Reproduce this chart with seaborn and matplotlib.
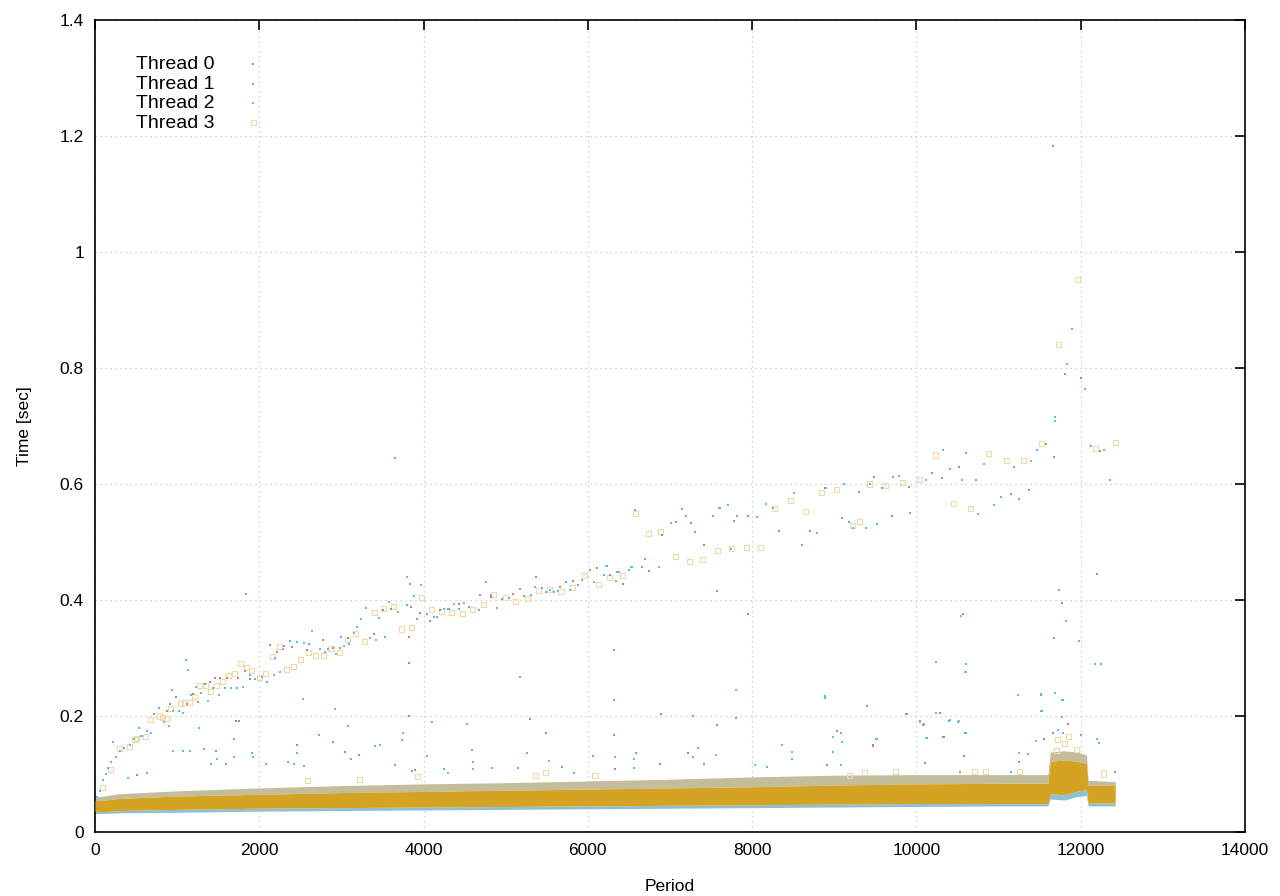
import matplotlib
matplotlib.use("Agg")
import matplotlib.pyplot as plt
import seaborn as sns
import pandas as pd

# dense band of the bulk of samples (period, time in sec)
band_x = [0, 100, 300, 1000, 2000, 3000, 4000, 5000, 6000, 7000, 8000, 9000,
          10000, 11000, 11600, 11630, 11800, 11950, 12070, 12090, 12420]
band_lo = [0.032, 0.032, 0.033, 0.034, 0.036, 0.037, 0.038, 0.039, 0.040, 0.041, 0.042, 0.043,
           0.044, 0.045, 0.045, 0.057, 0.055, 0.061, 0.063, 0.045, 0.045]
core_lo = [0.036, 0.035, 0.037, 0.039, 0.041, 0.042, 0.043, 0.044, 0.045, 0.046, 0.047, 0.048,
           0.049, 0.049, 0.049, 0.066, 0.064, 0.070, 0.073, 0.050, 0.050]
core_hi = [0.054, 0.055, 0.058, 0.062, 0.065, 0.068, 0.070, 0.072, 0.074, 0.076, 0.078, 0.081,
           0.083, 0.084, 0.084, 0.122, 0.124, 0.122, 0.118, 0.081, 0.081]
band_hi = [0.060, 0.062, 0.066, 0.071, 0.076, 0.080, 0.083, 0.085, 0.088, 0.091, 0.095, 0.098,
           0.099, 0.099, 0.099, 0.138, 0.140, 0.138, 0.133, 0.089, 0.087]

# Thread 0 (brown dots)
t0_x = [719, 881, 909, 982, 1123, 1196, 1257, 1337, 1394, 1459, 1527, 1608, 1741, 1822, 1891,
        2133, 2214, 2303, 2400, 2578, 2772, 2893, 2982, 3075, 3398, 3507, 3608, 3830, 3842, 3822,
        3951, 4073, 4194, 4315, 4436, 4557, 4687, 4820, 5091, 5370, 5661, 5818, 6109, 6267, 6424,
        6739, 6574, 6899, 7072, 7251, 7414, 7598, 7776, 7955, 8323, 8703, 8892, 9093, 9298, 9488,
        9699, 9905, 10317, 10517, 10728, 11156, 11373, 11578, 11671, 12234,
        1750, 3818, 3818, 7576, 7955, 6320, 10571, 11671, 11768, 12196, 11667, 11805, 12004, 11671,
        6315, 9394, 6885, 7806, 7576, 5297, 5491, 6315, 9879, 10283, 10084, 9030, 10327,
        1717, 2455, 2897, 510, 1473, 1595, 2549, 3043, 3214, 3896, 4590,
        7219, 6878, 7414, 9471, 8911, 5150, 5685, 6330,
        9889, 10286, 10091, 10335, 10579, 9466, 11663, 11846, 11251, 11554, 12418, 10530, 10104]
t0_y = [0.203, 0.208, 0.221, 0.233, 0.221, 0.238, 0.224, 0.256, 0.259, 0.266, 0.266, 0.266, 0.266, 0.277, 0.264,
        0.322, 0.310, 0.321, 0.319, 0.313, 0.331, 0.317, 0.317, 0.334, 0.341, 0.382, 0.384, 0.428, 0.388, 0.336,
        0.377, 0.364, 0.382, 0.384, 0.393, 0.388, 0.409, 0.406, 0.410, 0.440, 0.422, 0.433, 0.455, 0.443, 0.428,
        0.450, 0.556, 0.512, 0.534, 0.533, 0.494, 0.559, 0.537, 0.545, 0.519, 0.519, 0.593, 0.541, 0.586, 0.612,
        0.545, 0.595, 0.610, 0.629, 0.607, 0.582, 0.590, 0.669, 0.647, 0.657,
        0.191, 0.291, 0.200, 0.416, 0.376, 0.314, 0.376, 0.334, 0.395, 0.445, 1.183, 0.789, 0.782, 0.646,
        0.228, 0.217, 0.203, 0.197, 0.185, 0.195, 0.170, 0.168, 0.203, 0.206, 0.185, 0.174, 0.163,
        0.191, 0.150, 0.155, 0.098, 0.140, 0.117, 0.114, 0.138, 0.133, 0.107, 0.141,
        0.136, 0.117, 0.117, 0.150, 0.116, 0.110, 0.112, 0.109,
        0.203, 0.206, 0.186, 0.164, 0.131, 0.149, 0.170, 0.186, 0.121, 0.160, 0.103, 0.103, 0.119]

# Thread 1 (blue dots)
t1_x = [30, 100, 160, 250, 350, 470, 538, 639, 780, 901, 1022, 1103, 1164, 1293, 1439, 1588, 1733,
        1842, 1952, 2093, 2194, 2376, 2529, 2602, 2739, 2840, 2994, 3087, 3192, 3297, 3418, 3527,
        3689, 3798, 3919, 4036, 4161, 4295, 4428, 4679, 4820, 4949,
        5176, 5313, 5447, 5588, 5733, 5879, 6024, 6194, 6339, 6497, 6654, 6032, 6357, 6693, 7143,
        7305, 7603, 7739, 8063, 8253, 8605, 8903, 9185, 9380, 9515, 9715, 9921, 10187, 10403,
        10609, 10826, 11031, 11248, 11470, 12120, 12353, 11899, 12049,
        942, 1697, 2733, 3083, 4101, 3650, 5176, 8893, 10234, 10606, 7285, 10396, 10594, 9078,
        9503, 215, 633, 1071, 1327, 1412, 1915, 2349, 2463, 3652, 4251, 4600, 3863, 3409,
        5257, 6062, 6586, 7341, 7280, 8485, 8984, 8485, 8181, 4833, 6561,
        10408, 10043, 10603, 11530, 11785, 12004, 12223, 11361, 11154,
        11732, 11984, 12243, 11513, 11769, 11513]
t1_y = [0.060, 0.090, 0.110, 0.130, 0.145, 0.160, 0.179, 0.175, 0.214, 0.182, 0.209, 0.297, 0.237, 0.240, 0.248, 0.248, 0.249,
        0.411, 0.263, 0.259, 0.300, 0.330, 0.229, 0.324, 0.316, 0.316, 0.336, 0.324, 0.353, 0.386, 0.331, 0.336,
        0.380, 0.391, 0.367, 0.376, 0.371, 0.384, 0.384, 0.383, 0.409, 0.401,
        0.419, 0.409, 0.420, 0.414, 0.431, 0.426, 0.452, 0.443, 0.433, 0.452, 0.457, 0.452, 0.448, 0.471, 0.557,
        0.518, 0.559, 0.488, 0.543, 0.559, 0.494, 0.593, 0.534, 0.524, 0.531, 0.612, 0.550, 0.619, 0.626,
        0.653, 0.634, 0.578, 0.574, 0.659, 0.666, 0.607, 0.867, 0.764,
        0.245, 0.161, 0.168, 0.183, 0.190, 0.645, 0.267, 0.234, 0.293, 0.290, 0.200, 0.192, 0.171, 0.170,
        0.160, 0.155, 0.102, 0.140, 0.143, 0.117, 0.136, 0.121, 0.136, 0.115, 0.109, 0.121, 0.105, 0.148,
        0.136, 0.131, 0.136, 0.145, 0.129, 0.138, 0.138, 0.126, 0.112, 0.110, 0.110,
        0.193, 0.191, 0.170, 0.209, 0.228, 0.167, 0.154, 0.134, 0.103,
        0.418, 0.329, 0.289, 0.237, 0.228, 0.208]

# Thread 2 (blue dots)
t2_x = [60, 130, 200, 300, 420, 560, 570, 679, 841, 950, 1071, 1135, 1224, 1378, 1515, 1661, 1802,
        1883, 2032, 2178, 2255, 2283, 2461, 2549, 2638, 2800, 2933, 3030, 3147, 3244, 3349, 3454,
        3580, 3794, 3879, 3963, 4121, 4246, 4376, 4497, 4759, 4893, 5042,
        5224, 5357, 5495, 5636, 5782, 5927, 6073, 6230, 6376, 6533, 6861, 5545, 6222, 6520, 7007,
        7197, 7522, 7701, 7820, 8172, 8513, 8795, 9120, 9228, 9434, 9580, 9786, 10122, 10322,
        10550, 10755, 10945, 11183, 11394, 11687, 12283, 11830, 11683,
        1265, 2533, 2921, 3749, 4529, 7806, 8893, 10537, 10594, 10234, 10509, 10040, 8982, 10121,
        3737, 400, 950, 1157, 1484, 1696, 1919, 2082, 2423, 3117, 3470, 4044, 4300, 4600,
        5527, 6330, 6561, 7560, 8363, 9094, 9082, 8035, 5831,
        10237, 10517, 10128, 9515, 11785, 11724, 12199, 11251, 11458,
        11817, 12170, 11233, 11683, 11769, 10538, 10598, 11237, 11519]
t2_y = [0.070, 0.100, 0.120, 0.140, 0.150, 0.165, 0.165, 0.171, 0.189, 0.208, 0.205, 0.280, 0.250, 0.226, 0.237, 0.248, 0.250,
        0.271, 0.268, 0.270, 0.276, 0.315, 0.328, 0.326, 0.346, 0.311, 0.307, 0.321, 0.343, 0.367, 0.334, 0.369,
        0.397, 0.440, 0.407, 0.426, 0.371, 0.384, 0.393, 0.395, 0.431, 0.386, 0.403,
        0.407, 0.422, 0.414, 0.415, 0.417, 0.434, 0.431, 0.459, 0.448, 0.457, 0.457, 0.417, 0.459, 0.457, 0.533,
        0.544, 0.544, 0.563, 0.544, 0.566, 0.584, 0.516, 0.600, 0.524, 0.600, 0.593, 0.613, 0.607, 0.659,
        0.607, 0.548, 0.564, 0.629, 0.640, 0.716, 0.659, 0.807, 0.708,
        0.179, 0.229, 0.212, 0.170, 0.187, 0.245, 0.231, 0.372, 0.276, 0.205, 0.190, 0.190, 0.163, 0.162,
        0.159, 0.093, 0.140, 0.140, 0.126, 0.129, 0.130, 0.117, 0.117, 0.126, 0.150, 0.131, 0.102, 0.109,
        0.122, 0.129, 0.126, 0.133, 0.150, 0.155, 0.116, 0.116, 0.102,
        0.205, 0.191, 0.162, 0.160, 0.170, 0.176, 0.160, 0.136, 0.157,
        0.363, 0.290, 0.236, 0.239, 0.198, 0.373, 0.276, 0.236, 0.238]

# Thread 3 (light gold squares)
t3_x = [94, 191, 304, 426, 487, 509, 610, 679, 780, 820, 869, 921, 1043, 1091, 1152, 1212, 1273,
        1346, 1406, 1479, 1556, 1628, 1701, 1770, 1842, 1911, 2000, 2073, 2158, 2242, 2327, 2412,
        2497, 2594, 2679, 2776, 2873, 2982, 3079, 3176, 3285, 3398, 3507, 3628, 3737, 3859, 3980,
        4101, 4222, 4343, 4472, 4594, 4727, 4848, 4994, 5115, 5265, 5394, 5539, 5673, 5818, 5964,
        6125, 6265, 6422, 6574, 6737, 6888, 7062, 7235, 7392, 7576, 7744, 7928, 8107, 8275, 8470,
        8654, 8849, 9028, 9223, 9304, 9429, 9623, 9829, 10040, 10230, 10447, 10658, 10874, 11091,
        11308, 11519, 12185, 12418, 11732, 11963,
        2581, 3214, 3931, 5358, 5490, 6087, 9191, 9362, 9745, 11251, 11700, 11716, 11805, 11857,
        11946, 12280, 10705, 10839]
t3_y = [0.077, 0.107, 0.144, 0.147, 0.160, 0.161, 0.165, 0.194, 0.200, 0.198, 0.195, 0.213, 0.222, 0.224, 0.224, 0.233, 0.252,
        0.253, 0.243, 0.253, 0.259, 0.269, 0.274, 0.291, 0.283, 0.278, 0.266, 0.274, 0.303, 0.319, 0.281, 0.286,
        0.298, 0.309, 0.305, 0.305, 0.316, 0.310, 0.332, 0.342, 0.329, 0.379, 0.386, 0.389, 0.350, 0.352, 0.405,
        0.383, 0.380, 0.378, 0.376, 0.384, 0.393, 0.410, 0.405, 0.397, 0.403, 0.417, 0.418, 0.415, 0.422, 0.443,
        0.426, 0.438, 0.442, 0.549, 0.514, 0.518, 0.475, 0.467, 0.469, 0.486, 0.488, 0.491, 0.491, 0.557, 0.571,
        0.553, 0.586, 0.591, 0.528, 0.535, 0.600, 0.598, 0.602, 0.607, 0.650, 0.567, 0.557, 0.653, 0.640,
        0.640, 0.669, 0.662, 0.672, 0.840, 0.952,
        0.088, 0.091, 0.095, 0.098, 0.102, 0.097, 0.098, 0.103, 0.105, 0.105, 0.140, 0.160, 0.152, 0.165,
        0.143, 0.100, 0.105, 0.105]

x_ticks = [0, 2000, 4000, 6000, 8000, 10000, 12000, 14000]
y_ticks = [0, 0.2, 0.4, 0.6, 0.8, 1.0, 1.2, 1.4]
y_tick_labels = ["0", "0.2", "0.4", "0.6", "0.8", "1", "1.2", "1.4"]

sns.set_theme(style="white")
plt.rcParams["font.family"] = ["Liberation Sans", "DejaVu Sans"]
plt.rcParams["text.color"] = "black"
plt.rcParams["axes.labelcolor"] = "black"

fig = plt.figure(figsize=(12.8, 8.96), dpi=100)
ax = fig.add_axes([95 / 1280, 64 / 896, 1150 / 1280, 812 / 896])

# bulk band: blue lower fringe, speckled upper fringe, gold core
ax.fill_between(band_x, band_lo, core_lo, color="#8cc0d4", lw=0, zorder=2)
ax.fill_between(band_x, core_hi, band_hi, color="#c3bd9c", lw=0, zorder=2)
ax.fill_between(band_x, core_lo, core_hi, color="#d4a323", lw=0, zorder=3)

d0 = pd.DataFrame({"Period": t0_x, "Time": t0_y})
d1 = pd.DataFrame({"Period": t1_x, "Time": t1_y})
d2 = pd.DataFrame({"Period": t2_x, "Time": t2_y})
d3 = pd.DataFrame({"Period": t3_x, "Time": t3_y})

sns.scatterplot(data=d3, x="Period", y="Time", marker="s", s=13, facecolors="none",
                edgecolor="#f1d9a6", linewidth=0.8, label="Thread 3", ax=ax, zorder=4)
sns.scatterplot(data=d0, x="Period", y="Time", marker="s", s=3, color="#bb8a76",
                linewidth=0, label="Thread 0", ax=ax, zorder=5)
sns.scatterplot(data=d1, x="Period", y="Time", marker="s", s=4, color="#55b9e6",
                linewidth=0, label="Thread 1", ax=ax, zorder=5)
sns.scatterplot(data=d2, x="Period", y="Time", marker="s", s=4, color="#62bee8",
                linewidth=0, label="Thread 2", ax=ax, zorder=5)

ax.set_xlim(0, 14000)
ax.set_ylim(0, 1.4)
ax.set_xticks(x_ticks)
ax.set_xticklabels([str(t) for t in x_ticks])
ax.set_yticks(y_ticks)
ax.set_yticklabels(y_tick_labels)
ax.grid(True, linestyle=(0, (1, 3)), color="#c4c4c4", lw=0.9, zorder=0)
ax.set_axisbelow(True)
for s in ax.spines.values():
    s.set_color("black")
    s.set_linewidth(1.2)
ax.tick_params(direction="in", length=7, width=1.2, top=True, right=True,
               labelsize=12.5, colors="black", pad=8)
ax.set_xlabel("Period", fontsize=12.5, labelpad=15)
ax.set_ylabel("Time [sec]", fontsize=12.5, labelpad=20)

handles, labels = ax.get_legend_handles_labels()
order = [labels.index(n) for n in ["Thread 0", "Thread 1", "Thread 2", "Thread 3"]]
leg = ax.legend([handles[i] for i in order], [labels[i] for i in order],
                loc="upper left", bbox_to_anchor=(0.027, 0.968), frameon=False,
                markerfirst=False, fontsize=14, labelspacing=0.1,
                handletextpad=1.0, borderpad=0, markerscale=1.0)

fig.savefig("out.png", dpi=100)
